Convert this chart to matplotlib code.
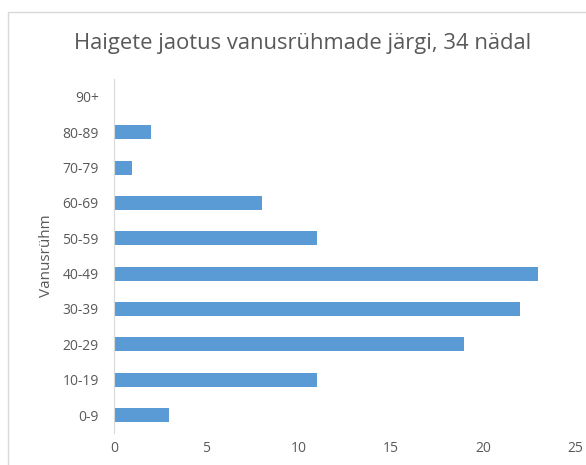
import matplotlib
matplotlib.use("Agg")
import matplotlib.pyplot as plt
from matplotlib.patches import Rectangle

# data
groups = ["0-9", "10-19", "20-29", "30-39", "40-49", "50-59", "60-69", "70-79", "80-89", "90+"]
counts = [3, 11, 19, 22, 23, 11, 8, 1, 2, 0]
xticks = [0, 5, 10, 15, 20, 25]

plt.rcParams['font.family'] = ['Open Sans', 'DejaVu Sans']
txt = '#595959'

fig = plt.figure(figsize=(5.86, 4.65), dpi=100)
ax = fig.add_axes([0.1945, 0.0695, 0.9813 - 0.1945, 0.8295 - 0.0695])

ax.barh(range(len(groups)), counts, height=0.4, color='#5B9BD5')
ax.set_yticks(range(len(groups)))
ax.set_yticklabels(groups, fontsize=10, color=txt)
ax.set_ylim(-0.5, len(groups) - 0.5)
ax.set_xlim(0, 25)
ax.set_xticks(xticks)
ax.set_xticklabels([str(t) for t in xticks], fontsize=10, color=txt)
ax.tick_params(axis='x', length=0, pad=6)
ax.tick_params(axis='y', length=0, pad=11)
for s in ['top', 'right', 'bottom']:
    ax.spines[s].set_visible(False)
ax.spines['left'].set_color('#d9d9d9')
ax.set_ylabel('Vanusrühm', fontsize=11, color=txt, labelpad=6)

fig.text(0.517, 0.907, 'Haigete jaotus vanusrühmade järgi, 34 nädal', ha='center', va='center',
         fontsize=15.8, color=txt)

# chart area border (runs off the right and bottom edges)
fig.patches.append(Rectangle((8 / 586, -0.05), 1.2, 1 - 12 / 465 + 0.05, transform=fig.transFigure,
                             fill=False, edgecolor='#d9d9d9', linewidth=1))

fig.savefig('out.png', dpi=100)
